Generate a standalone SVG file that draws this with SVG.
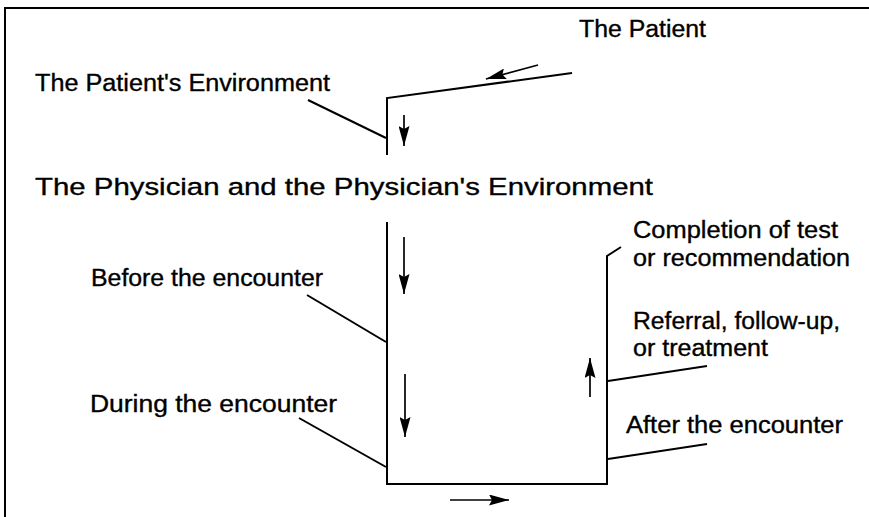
<svg xmlns="http://www.w3.org/2000/svg" width="869" height="517" viewBox="0 0 869 517">
<defs>
<marker id="ahl" viewBox="0 0 20 11" refX="20" refY="5.5" markerWidth="20" markerHeight="11" markerUnits="userSpaceOnUse" orient="auto">
<path d="M0,0 L20,5.5 L0,11 L3,5.5 Z" fill="#000"/>
</marker>
</defs>
<style>
text{font-family:"Liberation Sans",Arial,sans-serif;font-size:23px;fill:#000;stroke:#000;stroke-width:0.35}
.big{font-size:24.5px}
.ln{stroke:#000;stroke-width:2;fill:none}
.ar{stroke:#000;stroke-width:1.7;fill:none;marker-end:url(#ahl)}
</style>
<rect width="869" height="517" fill="#fff"/>
<g id="frame">
<path class="ln" d="M5,517 V8 H869" stroke-width="2.5"/>
</g>
<g id="patient"><text x="579" y="37" textLength="127" lengthAdjust="spacingAndGlyphs">The Patient</text></g>
<g id="patient-env"><text x="35" y="91" textLength="295" lengthAdjust="spacingAndGlyphs">The Patient's Environment</text></g>
<g id="physician"><text class="big" x="35" y="195" textLength="618" lengthAdjust="spacingAndGlyphs">The  Physician and the Physician's Environment</text></g>
<g id="before"><text x="91" y="286" textLength="232" lengthAdjust="spacingAndGlyphs">Before the encounter</text></g>
<g id="during"><text x="90" y="412" textLength="247" lengthAdjust="spacingAndGlyphs">During the encounter</text></g>
<g id="completion"><text x="633" y="238" textLength="205" lengthAdjust="spacingAndGlyphs">Completion of test</text><text x="633" y="266" textLength="217" lengthAdjust="spacingAndGlyphs">or recommendation</text></g>
<g id="referral"><text x="633" y="329" textLength="207" lengthAdjust="spacingAndGlyphs">Referral, follow-up,</text><text x="633" y="356" textLength="135" lengthAdjust="spacingAndGlyphs">or treatment</text></g>
<g id="after"><text x="626" y="433" textLength="217" lengthAdjust="spacingAndGlyphs">After the encounter</text></g>
<g id="connectors">
<path class="ln" d="M572,73 L387,98 V155"/>
<path class="ln" d="M308,100 L386,138"/>
<path class="ln" d="M387,222 V484 H607 V256 L621,247"/>
<path class="ln" d="M307,295 L386,342"/>
<path class="ln" d="M299,418 L386,467"/>
<path class="ln" d="M608,381 L707,366"/>
<path class="ln" d="M608,459 L707,444"/>
<path class="ar" d="M538,65 L486,79"/>
<path class="ar" d="M404,115 V146"/>
<path class="ar" d="M404,237 V294"/>
<path class="ar" d="M405,374 V437"/>
<path class="ar" d="M590,397 V358"/>
<path class="ar" d="M450,500 H509"/>
</g>
</svg>
